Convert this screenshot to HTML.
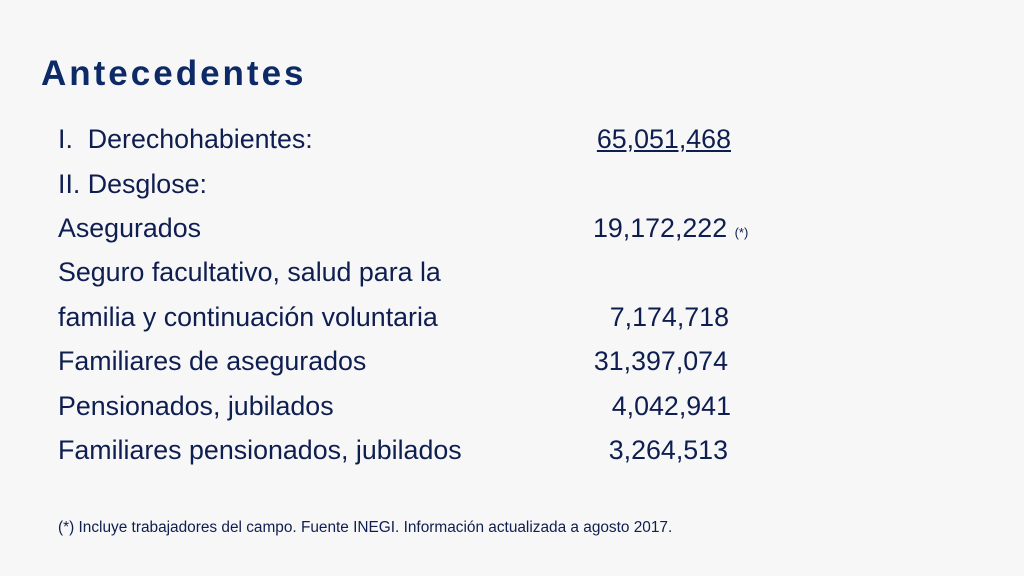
<!DOCTYPE html>
<html><head><meta charset="utf-8"><style>
body{margin:0;width:1024px;height:576px;background:#f7f7f7;overflow:hidden;position:relative;font-family:"Liberation Sans",sans-serif;color:#0f1e50}
.t{position:absolute;white-space:nowrap;font-size:26.8px;line-height:30px}
.n{position:absolute;white-space:nowrap;font-size:26.8px;line-height:30px;text-align:right;right:293px}
h1{position:absolute;left:41px;top:54px;margin:0;font-size:35px;font-weight:bold;letter-spacing:3px;color:#0d2a66}
</style></head><body>
<h1>Antecedentes</h1>
<div class="t" style="left:58px;top:124px">I.&nbsp; Derechohabientes:</div>
<div class="n" style="top:124px;text-decoration:underline">65,051,468</div>
<div class="t" style="left:58px;top:169px">II.&nbsp;Desglose:</div>
<div class="t" style="left:58px;top:213px">Asegurados</div>
<div class="t" style="left:593px;top:213px">19,172,222 <span style="font-size:13px">(*)</span></div>
<div class="t" style="left:58px;top:257px">Seguro facultativo, salud para la</div>
<div class="t" style="left:58px;top:302px">familia y continuación voluntaria</div>
<div class="n" style="top:302px;right:295px">7,174,718</div>
<div class="t" style="left:58px;top:346px">Familiares de asegurados</div>
<div class="n" style="top:346px;right:296px">31,397,074</div>
<div class="t" style="left:58px;top:391px">Pensionados, jubilados</div>
<div class="n" style="top:391px">4,042,941</div>
<div class="t" style="left:58px;top:435px">Familiares pensionados, jubilados</div>
<div class="n" style="top:435px;right:296px">3,264,513</div>
<div class="t" style="left:58px;top:518px;font-size:15.4px;line-height:20px">(*) Incluye trabajadores del campo. Fuente INEGI. Información actualizada a agosto 2017.</div>
</body></html>
